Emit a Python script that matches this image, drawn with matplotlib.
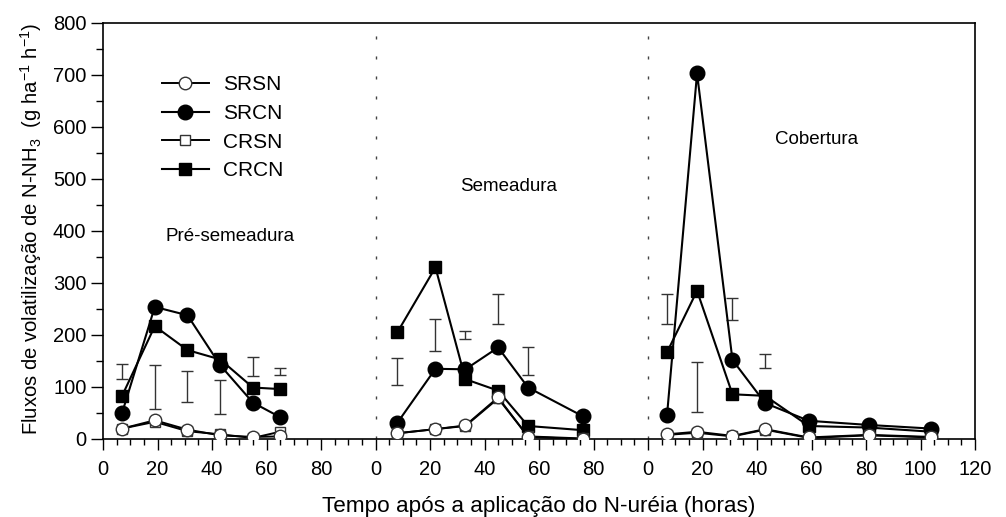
import matplotlib
matplotlib.use("Agg")
import matplotlib.pyplot as plt
from matplotlib.ticker import MultipleLocator, FixedLocator

plt.rcParams['font.family'] = ['Liberation Sans', 'DejaVu Sans']
plt.rcParams['mathtext.fontset'] = 'custom'
plt.rcParams['mathtext.rm'] = 'Liberation Sans'
plt.rcParams['mathtext.it'] = 'Liberation Sans:italic'
plt.rcParams['mathtext.bf'] = 'Liberation Sans:bold'

# ---------------- data ----------------
phases = ["Pré-semeadura", "Semeadura", "Cobertura"]

t_pre = [7, 19, 31, 43, 55, 65]
t_sem = [8, 22, 33, 45, 56, 76]
t_cob = [7, 18, 31, 43, 59, 81, 104]

SRSN_pre = [20, 36, 18, 7, 4, 5]
SRCN_pre = [50, 254, 238, 142, 70, 42]
CRSN_pre = [20, 33, 15, 9, 2, 14]
CRCN_pre = [83, 217, 171, 153, 99, 96]

SRSN_sem = [11, 19, 26, 80, 4, 0]
SRCN_sem = [31, 135, 134, 176, 99, 44]
CRSN_sem = [11, 19, 25, 78, 5, 1]
CRCN_sem = [205, 330, 115, 93, 25, 17]

SRSN_cob = [9, 14, 6, 19, 3, 8, 4]
SRCN_cob = [47, 703, 152, 69, 35, 27, 20]
CRSN_cob = [8, 12, 5, 18, 2, 7, 3]
CRCN_cob = [167, 285, 86, 83, 25, 22, 14]

# LSD bars: time, centre, half-length
lsd_t_pre = [7, 19, 31, 43, 55, 65]
lsd_c_pre = [130, 100, 101, 81, 140, 130]
lsd_e_pre = [15, 42, 30, 33, 18, 7]

lsd_t_sem = [8, 22, 33, 45, 56]
lsd_c_sem = [130, 200, 200, 250, 150]
lsd_e_sem = [26, 31, 8, 28, 26]

lsd_t_cob = [7, 18, 31, 43]
lsd_c_cob = [250, 100, 250, 150]
lsd_e_cob = [28, 49, 22, 14]

xtick_labels = ["0", "20", "40", "60", "80", "0", "20", "40", "60", "80",
                "0", "20", "40", "60", "80", "100", "120"]

# ---------------- figure ----------------
fig = plt.figure(figsize=(10.06, 5.17), dpi=100)
ax = fig.add_axes([103/1006, 1-439/517, (975-103)/1006, (439-23)/517])

offsets = [0, 100, 200]
times = [t_pre, t_sem, t_cob]
series = {
    "SRSN": [SRSN_pre, SRSN_sem, SRSN_cob],
    "SRCN": [SRCN_pre, SRCN_sem, SRCN_cob],
    "CRSN": [CRSN_pre, CRSN_sem, CRSN_cob],
    "CRCN": [CRCN_pre, CRCN_sem, CRCN_cob],
}
styles = {
    "SRSN": dict(marker='o', ms=9, mfc='white', mec='#333333', mew=1.0, color='black', lw=1.4),
    "SRCN": dict(marker='o', ms=10.5, mfc='black', mec='black', color='black', lw=1.5),
    "CRSN": dict(marker='s', ms=6.5, mfc='white', mec='#333333', mew=1.0, color='black', lw=1.4),
    "CRCN": dict(marker='s', ms=8, mfc='black', mec='black', color='black', lw=1.5),
}
order = ["SRCN", "CRCN", "CRSN", "SRSN"]
handles = {}
for name in order:
    for i, off in enumerate(offsets):
        xs = [off + t for t in times[i]]
        h, = ax.plot(xs, series[name][i], zorder=3, **styles[name])
        if i == 0:
            handles[name] = h

lsd_t = [lsd_t_pre, lsd_t_sem, lsd_t_cob]
lsd_c = [lsd_c_pre, lsd_c_sem, lsd_c_cob]
lsd_e = [lsd_e_pre, lsd_e_sem, lsd_e_cob]
for i, off in enumerate(offsets):
    xs = [off + t for t in lsd_t[i]]
    ax.errorbar(xs, lsd_c[i], yerr=lsd_e[i], fmt='none', ecolor='#333333',
                elinewidth=1.0, capsize=4, capthick=1.0, zorder=2)

# phase separators
for off in offsets[1:]:
    ax.axvline(off, color='#444444', lw=1.0, linestyle=(0, (2.2, 12.2)), zorder=1)

# phase labels
ax.text(23.1, 390, phases[0], fontsize=13.5, ha='left', va='center')
ax.text(148.7, 485, phases[1], fontsize=13.5, ha='center', va='center')
ax.text(262, 575, phases[2], fontsize=13.5, ha='center', va='center')

ax.set_xlim(0, 320)
ax.set_ylim(0, 800)
ax.xaxis.set_major_locator(FixedLocator(list(range(0, 321, 20))))
ax.set_xticklabels(xtick_labels)
ax.xaxis.set_minor_locator(MultipleLocator(5))
ax.yaxis.set_major_locator(MultipleLocator(100))
ax.yaxis.set_minor_locator(MultipleLocator(50))
ax.tick_params(axis='x', which='major', direction='out', length=7.7, width=1.0,
               labelsize=14.5, pad=7.5)
ax.tick_params(axis='x', which='minor', direction='out', length=4.1, width=1.0)
ax.tick_params(axis='y', which='major', direction='out', length=9, width=1.0,
               labelsize=14.5, pad=2.9)
ax.tick_params(axis='y', which='minor', direction='out', length=4.8, width=1.0)
for s in ax.spines.values():
    s.set_linewidth(1.2)

leg = ax.legend([handles[n] for n in ["SRSN", "SRCN", "CRSN", "CRCN"]],
                ["SRSN", "SRCN", "CRSN", "CRCN"],
                loc='upper left', bbox_to_anchor=(0.0673, 0.875),
                frameon=False, fontsize=15, handlelength=2.25,
                handletextpad=0.69, labelspacing=0.47, borderpad=0,
                borderaxespad=0)

fig.text(539/1006, 1-512/517, "Tempo após a aplicação do N-uréia (horas)",
         fontsize=16.2, ha='center', va='baseline')
fig.text(37.5/1006, 1-435/517,
         r"Fluxos de volatilização de N-NH$_{\mathregular{3}}$  (g ha$^{\mathregular{-1}}$ h$^{\mathregular{-1}}$)",
         fontsize=14.6, rotation=90, rotation_mode='anchor',
         ha='left', va='baseline')

fig.savefig("out.png", dpi=100)
